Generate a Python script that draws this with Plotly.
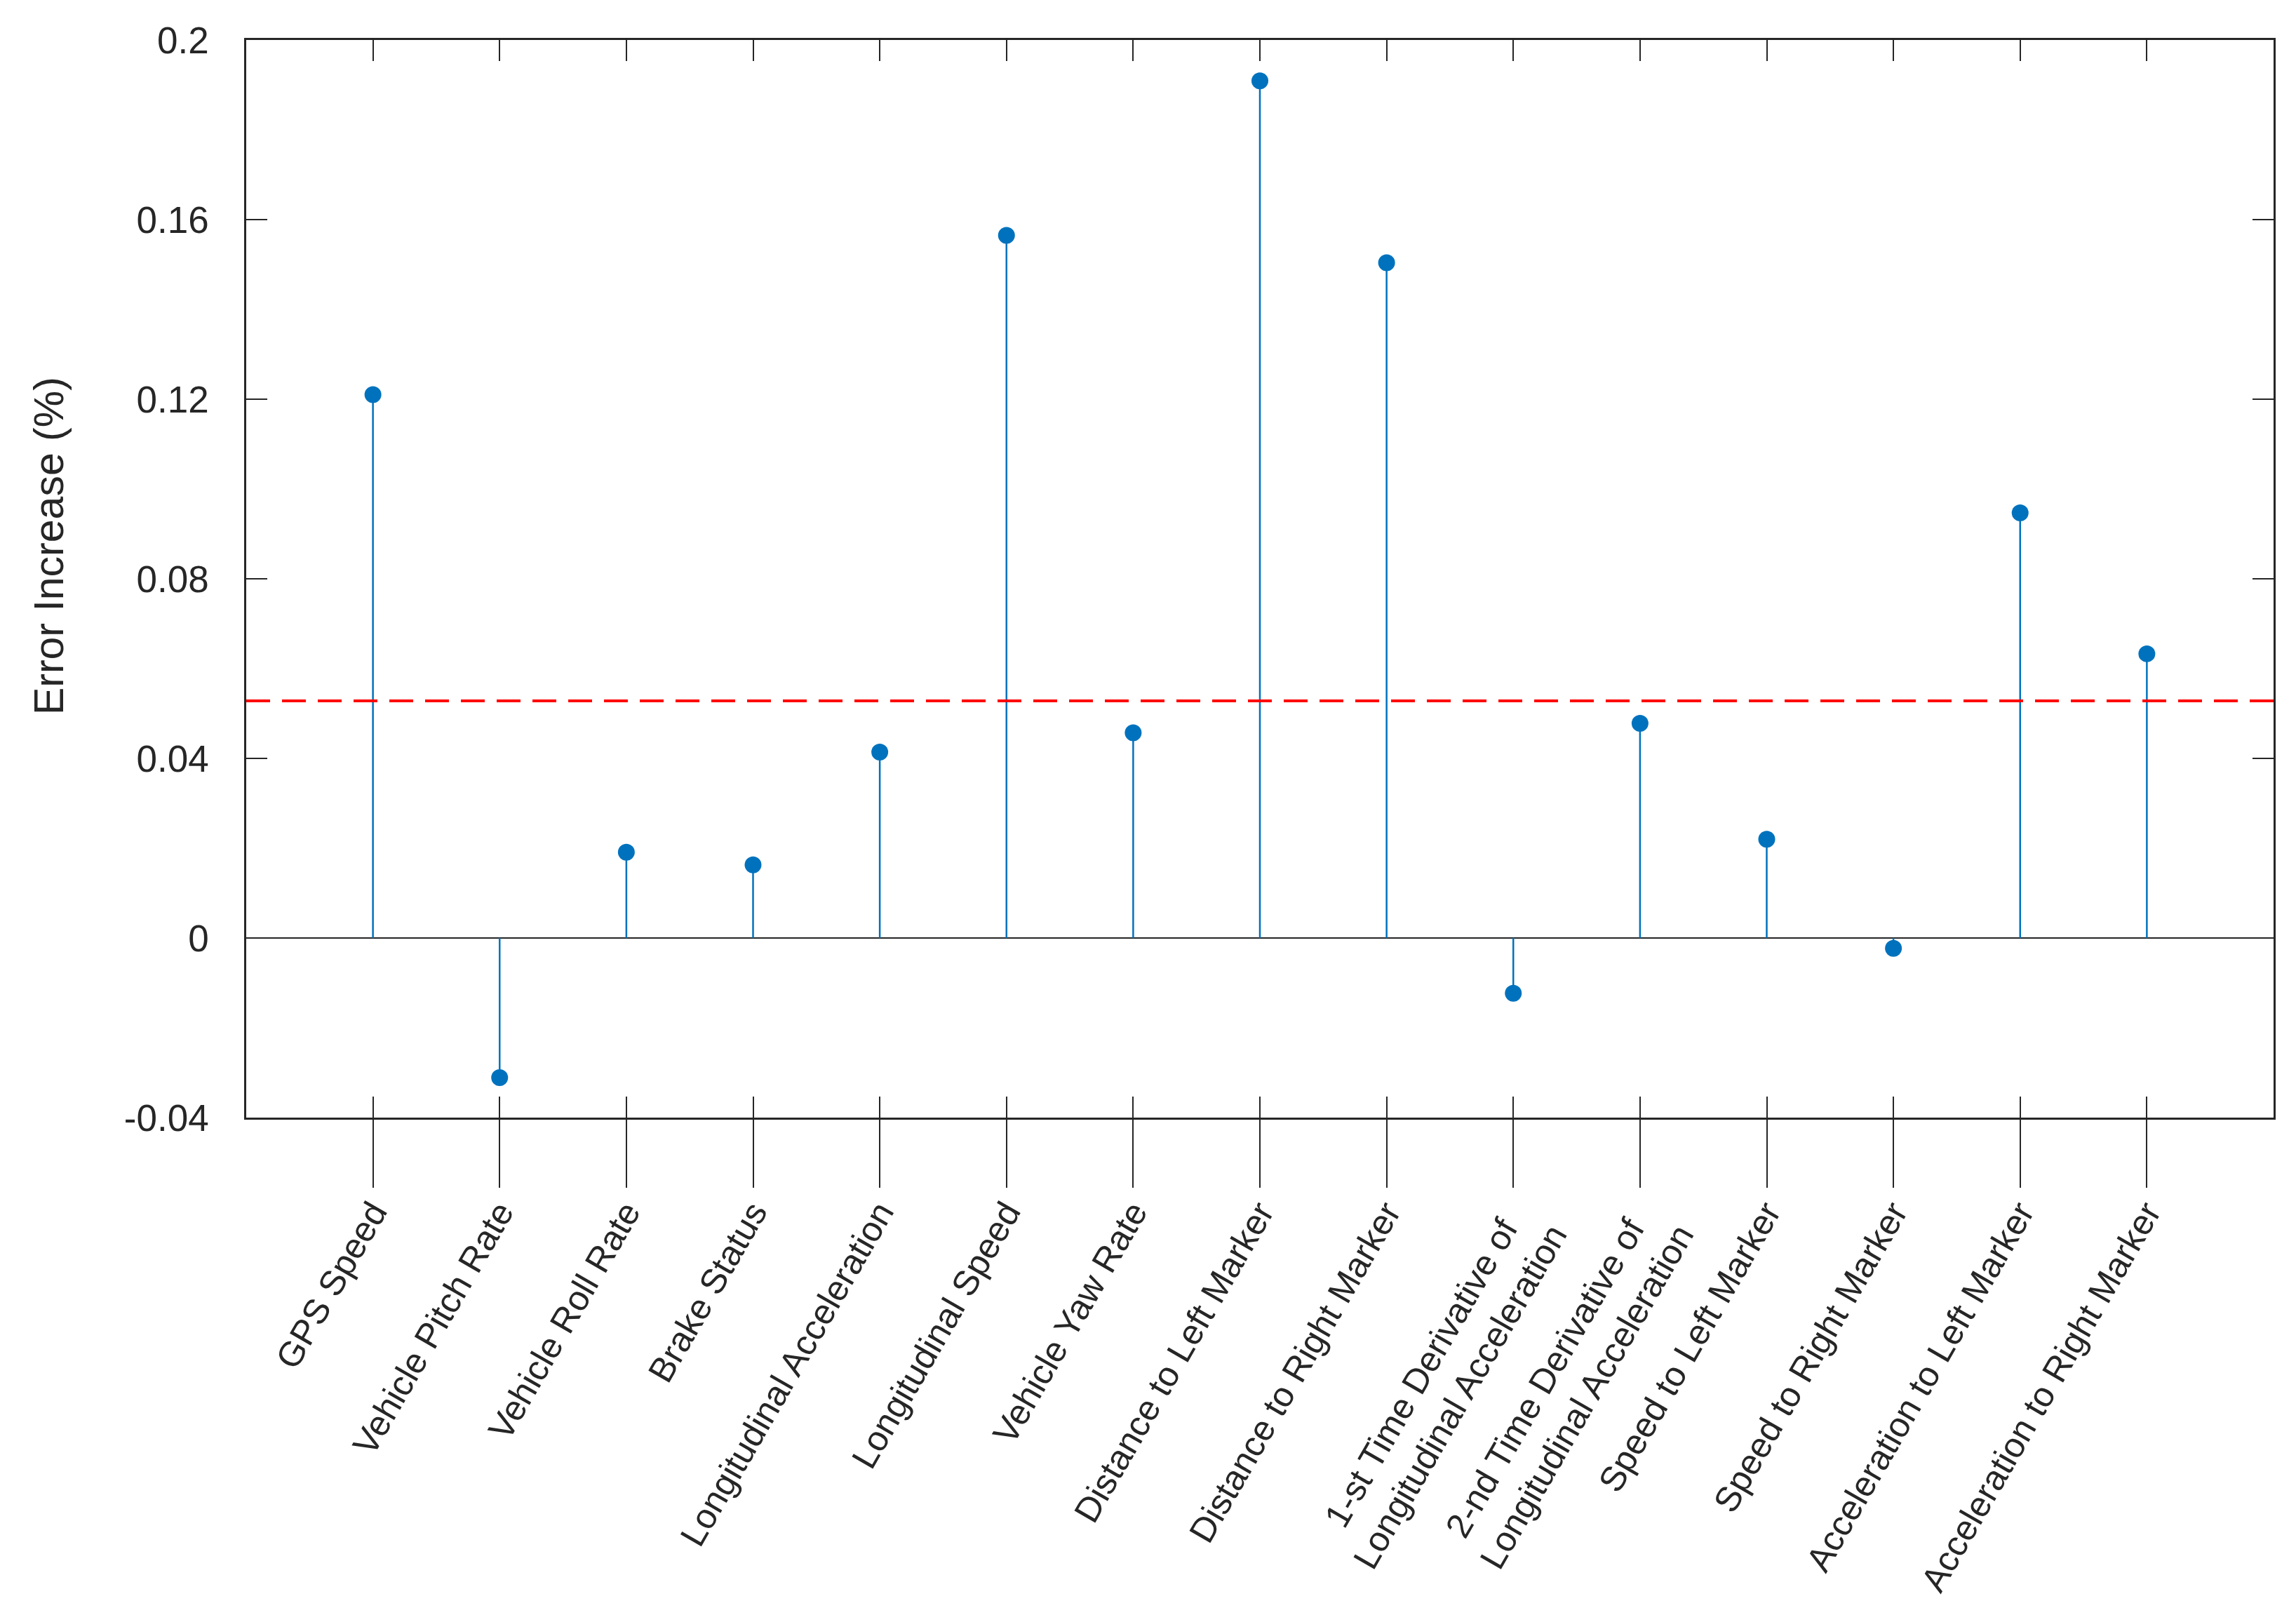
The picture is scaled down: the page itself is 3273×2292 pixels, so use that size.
import plotly.graph_objects as go

NBSP = "\u00a0"
categories = [
    "GPS Speed",
    "Vehicle Pitch Rate",
    "Vehicle Roll Rate",
    "Brake Status",
    "Longitudinal Acceleration",
    "Longitudinal Speed",
    "Vehicle Yaw Rate",
    "Distance to Left Marker",
    "Distance to Right Marker",
    "1-st Time Derivative of" + NBSP * 2 + "<br>Longitudinal Acceleration",
    "2-nd Time Derivative of" + NBSP * 2 + "<br>Longitudinal Acceleration",
    "Speed to Left Marker",
    "Speed to Right Marker",
    "Acceleration to Left Marker",
    "Acceleration to Right Marker",
]
error_increase = [0.121, -0.0311, 0.0191, 0.0163, 0.0414, 0.1565, 0.0457, 0.1909,
                  0.1504, -0.0123, 0.0478, 0.0220, -0.0023, 0.0947, 0.0633]
threshold = 0.0528
y_tick_vals = [-0.04, 0, 0.04, 0.08, 0.12, 0.16, 0.2]
y_tick_text = ["-0.04", "0", "0.04", "0.08", "0.12", "0.16", "0.2"]

positions = list(range(1, len(categories) + 1))
x_range = [0, len(categories) + 1]

BLUE = "#0072BD"
AXC = "#262626"
FONT = "Liberation Sans, Arial, Helvetica, sans-serif"

stem_x, stem_y = [], []
for p, v in zip(positions, error_increase):
    stem_x += [p, p, None]
    stem_y += [0, v, None]

fig = go.Figure()
fig.add_trace(go.Scatter(x=stem_x, y=stem_y, mode="lines",
                         line=dict(color=BLUE, width=2.5), showlegend=False,
                         hoverinfo="skip"))
fig.add_trace(go.Scatter(x=positions, y=error_increase, mode="markers",
                         marker=dict(color=BLUE, size=24), showlegend=False))
# invisible trace to keep the overlay axis alive
fig.add_trace(go.Scatter(x=positions, y=error_increase, mode="markers",
                         marker=dict(opacity=0), xaxis="x2", showlegend=False,
                         hoverinfo="skip"))

fig.add_shape(type="line", xref="paper", x0=0, x1=1, yref="y",
              y0=threshold, y1=threshold,
              line=dict(color="#FF0000", width=4, dash="34px,17px"))

fig.update_layout(
    width=3273, height=2292,
    margin=dict(l=343, r=40, t=49, b=707),
    paper_bgcolor="white", plot_bgcolor="white",
    font=dict(family=FONT, size=50, color=AXC),
    xaxis=dict(
        range=x_range, tickmode="array", tickvals=positions, ticktext=categories,
        tickangle=-60, ticks="outside", ticklen=97, tickwidth=2, tickcolor=AXC,
        showgrid=False, zeroline=False, showline=True, linecolor=AXC, linewidth=2.5,
        mirror=False, automargin=False, ticklabelstandoff=-14,
        tickfont=dict(size=50, color=AXC, family=FONT),
    ),
    xaxis2=dict(
        range=x_range, overlaying="x", anchor="y", side="bottom",
        tickmode="array", tickvals=positions, showticklabels=False,
        ticks="inside", ticklen=30, tickwidth=2, tickcolor=AXC,
        showgrid=False, zeroline=False, showline=True, linecolor=AXC, linewidth=2.5,
        mirror="ticks", automargin=False,
    ),
    yaxis=dict(
        range=[y_tick_vals[0], y_tick_vals[-1]], tickmode="array",
        tickvals=y_tick_vals, ticktext=y_tick_text,
        ticks="inside", ticklen=30, tickwidth=2, tickcolor=AXC,
        showgrid=False, zeroline=True, zerolinecolor=AXC, zerolinewidth=2,
        showline=True, linecolor=AXC, linewidth=2.5, mirror="ticks",
        automargin=False,
        tickfont=dict(size=53, color=AXC, family=FONT), ticklabelstandoff=40,
    ),
    annotations=[dict(
        text="Error Increase (%)", xref="paper", yref="paper",
        x=-0.0972, y=0.5306, xanchor="center", yanchor="middle",
        textangle=-90, showarrow=False,
        font=dict(size=59, color=AXC, family=FONT),
    )],
)

fig.write_html("out.html")
